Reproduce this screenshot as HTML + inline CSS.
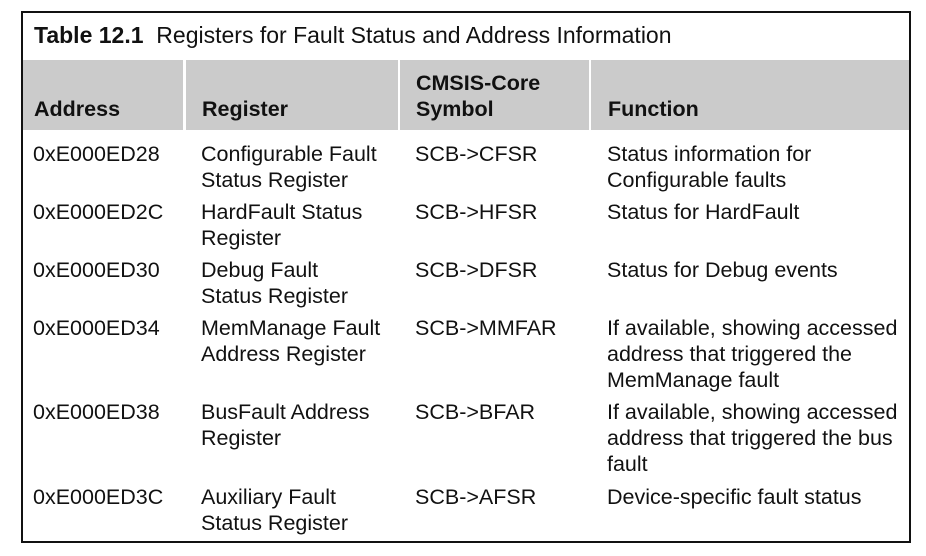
<!DOCTYPE html>
<html><head><style>
body{margin:0;width:926px;height:556px;background:#fff;position:relative;font-family:"Liberation Sans",Arial,sans-serif;color:#111;overflow:hidden}
.box{position:absolute;left:21px;top:11px;width:886px;height:528px;border:2px solid #111}
.t{position:absolute;font-size:21.5px;line-height:26px;white-space:nowrap}
.h{position:absolute;top:47px;height:70px;background:#cbcbcb}
.hb{position:absolute;font-weight:bold;font-size:21.5px;line-height:26px;white-space:nowrap}
</style></head><body>
<div class="box">
<div style="position:absolute;left:11px;top:9px;font-size:23px;white-space:nowrap"><b>Table 12.1</b>&nbsp; Registers for Fault Status and Address Information</div>
<div class="h" style="left:0;width:160px"></div>
<div class="h" style="left:163px;width:212px"></div>
<div class="h" style="left:377px;width:189px"></div>
<div class="h" style="left:568px;width:318px"></div>
<div class="hb" style="left:11px;top:83px">Address</div>
<div class="hb" style="left:179px;top:83px">Register</div>
<div class="hb" style="left:393px;top:57px">CMSIS-Core<br>Symbol</div>
<div class="hb" style="left:585px;top:83px">Function</div>
</div>
<div class="t" style="left:33px;top:141px">0xE000ED28</div>
<div class="t" style="left:201px;top:141px">Configurable Fault<br>Status Register</div>
<div class="t" style="left:415px;top:141px">SCB-&gt;CFSR</div>
<div class="t" style="left:607px;top:141px">Status information for<br>Configurable faults</div>

<div class="t" style="left:33px;top:199px">0xE000ED2C</div>
<div class="t" style="left:201px;top:199px">HardFault Status<br>Register</div>
<div class="t" style="left:415px;top:199px">SCB-&gt;HFSR</div>
<div class="t" style="left:607px;top:199px">Status for HardFault</div>

<div class="t" style="left:33px;top:257px">0xE000ED30</div>
<div class="t" style="left:201px;top:257px">Debug Fault<br>Status Register</div>
<div class="t" style="left:415px;top:257px">SCB-&gt;DFSR</div>
<div class="t" style="left:607px;top:257px">Status for Debug events</div>

<div class="t" style="left:33px;top:315px">0xE000ED34</div>
<div class="t" style="left:201px;top:315px">MemManage Fault<br>Address Register</div>
<div class="t" style="left:415px;top:315px">SCB-&gt;MMFAR</div>
<div class="t" style="left:607px;top:315px">If available, showing accessed<br>address that triggered the<br>MemManage fault</div>

<div class="t" style="left:33px;top:399px">0xE000ED38</div>
<div class="t" style="left:201px;top:399px">BusFault Address<br>Register</div>
<div class="t" style="left:415px;top:399px">SCB-&gt;BFAR</div>
<div class="t" style="left:607px;top:399px">If available, showing accessed<br>address that triggered the bus<br>fault</div>

<div class="t" style="left:33px;top:484px">0xE000ED3C</div>
<div class="t" style="left:201px;top:484px">Auxiliary Fault<br>Status Register</div>
<div class="t" style="left:415px;top:484px">SCB-&gt;AFSR</div>
<div class="t" style="left:607px;top:484px">Device-specific fault status</div>
</body></html>
